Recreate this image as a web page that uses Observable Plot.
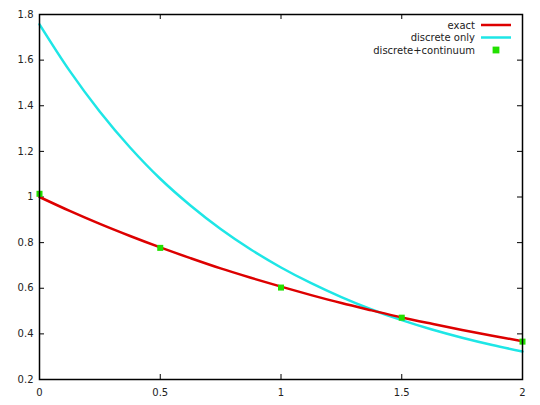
<!DOCTYPE html>
<html>
<head>
<meta charset="utf-8">
<script src="https://cdn.jsdelivr.net/npm/d3@7"></script>
<script src="https://cdn.jsdelivr.net/npm/@observablehq/plot@0.6"></script>
<style>
  html, body { margin: 0; padding: 0; background: #fff; }
  #chart { width: 540px; height: 405px; }
</style>
</head>
<body>
<div id="chart"></div>
<script>
// Sample positions along x
const xs = [0, 0.125, 0.25, 0.375, 0.5, 0.625, 0.75, 0.875, 1, 1.125, 1.25, 1.375, 1.5, 1.625, 1.75, 1.875, 2];
// "exact" curve (red)
const exactVals = [1.000, 0.939, 0.882, 0.829, 0.779, 0.732, 0.687, 0.646, 0.607, 0.570, 0.535, 0.503, 0.472, 0.444, 0.417, 0.392, 0.368];
// "discrete only" curve (cyan)
const discreteVals = [1.757, 1.553, 1.374, 1.217, 1.080, 0.963, 0.860, 0.770, 0.691, 0.622, 0.561, 0.507, 0.460, 0.419, 0.383, 0.351, 0.323];
// "discrete+continuum" points (green)
const pointXs = [0, 0.5, 1, 1.5, 2];
const pointVals = [1.014, 0.777, 0.603, 0.471, 0.366];

const xTicks = [0, 0.5, 1, 1.5, 2];
const yTicks = [0.2, 0.4, 0.6, 0.8, 1, 1.2, 1.4, 1.6, 1.8];
const seriesNames = ["exact", "discrete only", "discrete+continuum"];

const exactData = xs.map((x, i) => ({x, y: exactVals[i]}));
const discreteData = xs.map((x, i) => ({x, y: discreteVals[i]}));
const pointData = pointXs.map((x, i) => ({x, y: pointVals[i]}));

const W = 540, H = 405;
const mL = 39, mR = 18, mT = 14, mB = 26;
const fw = W - mL - mR, fh = H - mT - mB;
const tk = 5;
const fmt = d => String(+d.toFixed(1));

const red = "#dd0000", cyan = "#1ee6e6", green = "#22e000";

const plot = Plot.plot({
  width: W, height: H,
  marginLeft: mL, marginRight: mR, marginTop: mT, marginBottom: mB,
  style: {fontFamily: "DejaVu Sans", fontSize: "10px", color: "#222", background: "#fff"},
  x: {domain: [0, 2]},
  y: {domain: [0.2, 1.8]},
  marks: [
    Plot.axisX({ticks: xTicks, tickSize: 0, tickPadding: 9, tickFormat: fmt, label: null}),
    Plot.axisY({ticks: yTicks, tickSize: 0, tickPadding: 6, tickFormat: fmt, label: null}),
    // inward ticks on all four sides
    Plot.tickX(xTicks, {x: d => d, insetTop: fh - tk, stroke: "#000"}),
    Plot.tickX(xTicks, {x: d => d, insetBottom: fh - tk, stroke: "#000"}),
    Plot.tickY(yTicks, {y: d => d, insetRight: fw - tk, stroke: "#000"}),
    Plot.tickY(yTicks, {y: d => d, insetLeft: fw - tk, stroke: "#000"}),
    Plot.line(discreteData, {x: "x", y: "y", stroke: cyan, strokeWidth: 2.5, curve: "catmull-rom"}),
    Plot.line(exactData, {x: "x", y: "y", stroke: red, strokeWidth: 2.5, curve: "catmull-rom"}),
    Plot.dot(pointData, {x: "x", y: "y", symbol: "square", r: 3.4, fill: green, stroke: "none"}),
    Plot.frame({stroke: "#000", strokeWidth: 1.5})
  ]
});

document.getElementById("chart").appendChild(plot);

// Legend inside the plot (top right), gnuplot style
const svg = d3.select(plot);
const lg = svg.append("g").attr("font-family", "DejaVu Sans").attr("font-size", 10).attr("fill", "#222");
const rowY = [25, 37.5, 50];
const textRight = 475, lx1 = 481, lx2 = 511;
const legendStyles = [
  {type: "line", color: red},
  {type: "line", color: cyan},
  {type: "point", color: green}
];
seriesNames.forEach((name, i) => {
  lg.append("text").attr("x", textRight).attr("y", rowY[i]).attr("dy", "0.35em")
    .attr("text-anchor", "end").text(name);
  const s = legendStyles[i];
  if (s.type === "line") {
    lg.append("line").attr("x1", lx1).attr("x2", lx2).attr("y1", rowY[i]).attr("y2", rowY[i])
      .attr("stroke", s.color).attr("stroke-width", 2.5);
  } else {
    lg.append("rect").attr("x", (lx1 + lx2) / 2 - 3.4).attr("y", rowY[i] - 3.4)
      .attr("width", 6.8).attr("height", 6.8).attr("fill", s.color);
  }
});
</script>
</body>
</html>
